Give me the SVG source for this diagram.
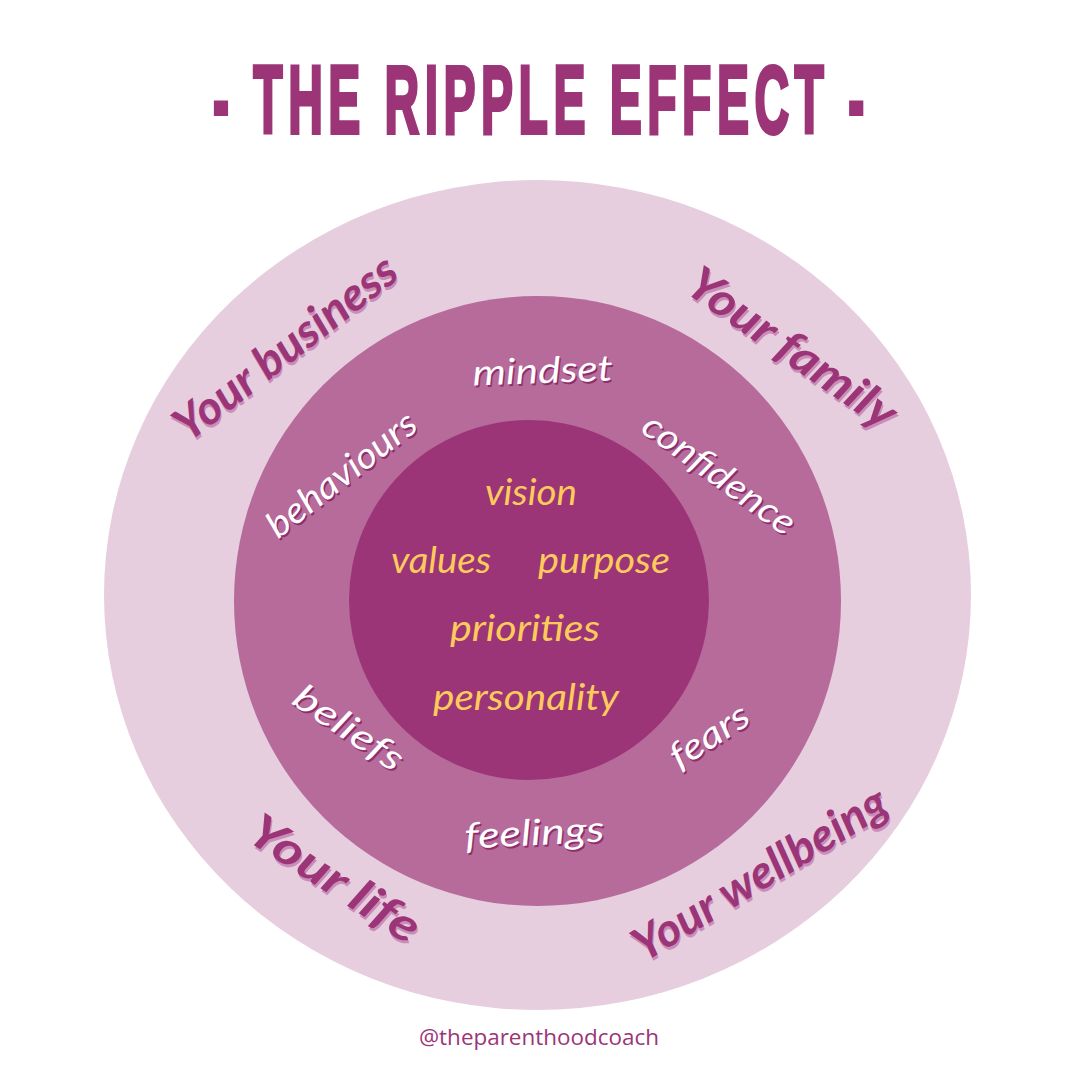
<svg xmlns="http://www.w3.org/2000/svg" width="1080" height="1080" viewBox="0 0 1080 1080">
<style>
.title{font-family:"Liberation Sans",Arial,sans-serif;font-weight:700;font-size:96px;letter-spacing:11px;fill:#9C3577;stroke:#9C3577;stroke-width:4;stroke-linejoin:miter}
.outer{font-family:Lato,"Noto Sans",sans-serif;font-style:italic;font-weight:700;font-size:46px;text-anchor:middle}
.outer.main{fill:#9B3577}
.outer.shadow{fill:#C98DB8}
.ring{font-family:Lato,"Noto Sans",sans-serif;font-style:italic;font-weight:400;font-size:36px;text-anchor:middle}
.ring.main{fill:#FFFFFF}
.ring.shadow{fill:#8F2E6E}
.core{font-family:Lato,"Noto Sans",sans-serif;font-style:italic;font-weight:400;font-size:36px;text-anchor:middle;fill:#FDCB5C}
.handle{font-family:"Open Sans","Noto Sans",sans-serif;font-size:22.5px;fill:#9B3577;text-anchor:middle}
</style>
<rect width="1080" height="1080" fill="#FFFFFF"/>
<g id="title">
<text class="title" transform="translate(213,133) scale(0.5,1)" x="0" y="0">- THE RIPPLE EFFECT -</text>
</g>
<g id="rings">
<ellipse id="ring-outer" cx="537.5" cy="595" rx="433.5" ry="415" fill="#E6CEDF"/>
<ellipse id="ring-middle" cx="537.5" cy="601" rx="303.5" ry="305" fill="#B66B9B"/>
<circle id="ring-inner" cx="529" cy="600" r="180" fill="#9B3577"/>
</g>
<g id="connectors"></g>
<g id="label-your-business">
<text class="outer shadow" transform="translate(296,363) rotate(-38)" textLength="270" lengthAdjust="spacingAndGlyphs">Your business</text>
<text class="outer main" transform="translate(295,360) rotate(-38)" textLength="270" lengthAdjust="spacingAndGlyphs">Your business</text>
</g>
<g id="label-your-family">
<text class="outer shadow" transform="translate(784,364) rotate(35)" textLength="245" lengthAdjust="spacingAndGlyphs">Your family</text>
<text class="outer main" transform="translate(783,361) rotate(35)" textLength="245" lengthAdjust="spacingAndGlyphs">Your family</text>
</g>
<g id="label-your-life">
<text class="outer shadow" transform="translate(327,895) rotate(33)" textLength="195" lengthAdjust="spacingAndGlyphs">Your life</text>
<text class="outer main" transform="translate(326,892) rotate(33)" textLength="195" lengthAdjust="spacingAndGlyphs">Your life</text>
</g>
<g id="label-your-wellbeing">
<text class="outer shadow" transform="translate(769,890) rotate(-31.5)" textLength="290" lengthAdjust="spacingAndGlyphs">Your wellbeing</text>
<text class="outer main" transform="translate(768,887) rotate(-31.5)" textLength="290" lengthAdjust="spacingAndGlyphs">Your wellbeing</text>
</g>
<g id="label-mindset">
<text class="ring shadow" transform="translate(544.5,385) rotate(-2)" textLength="140" lengthAdjust="spacingAndGlyphs">mindset</text>
<text class="ring main" transform="translate(543,383) rotate(-2)" textLength="140" lengthAdjust="spacingAndGlyphs">mindset</text>
</g>
<g id="label-behaviours">
<text class="ring shadow" transform="translate(350.5,486) rotate(-38)" textLength="180" lengthAdjust="spacingAndGlyphs">behaviours</text>
<text class="ring main" transform="translate(349,484) rotate(-38)" textLength="180" lengthAdjust="spacingAndGlyphs">behaviours</text>
</g>
<g id="label-confidence">
<text class="ring shadow" transform="translate(713.5,486) rotate(36)" textLength="180" lengthAdjust="spacingAndGlyphs">confidence</text>
<text class="ring main" transform="translate(712,484) rotate(36)" textLength="180" lengthAdjust="spacingAndGlyphs">confidence</text>
</g>
<g id="label-beliefs">
<text class="ring shadow" transform="translate(343.5,740) rotate(34)" textLength="125" lengthAdjust="spacingAndGlyphs">beliefs</text>
<text class="ring main" transform="translate(342,738) rotate(34)" textLength="125" lengthAdjust="spacingAndGlyphs">beliefs</text>
</g>
<g id="label-fears">
<text class="ring shadow" transform="translate(717.5,748) rotate(-33)" textLength="88" lengthAdjust="spacingAndGlyphs">fears</text>
<text class="ring main" transform="translate(716,746) rotate(-33)" textLength="88" lengthAdjust="spacingAndGlyphs">fears</text>
</g>
<g id="label-feelings">
<text class="ring shadow" transform="translate(536.5,847) rotate(-3)" textLength="140" lengthAdjust="spacingAndGlyphs">feelings</text>
<text class="ring main" transform="translate(535,845) rotate(-3)" textLength="140" lengthAdjust="spacingAndGlyphs">feelings</text>
</g>
<g id="label-vision"><text class="core" x="531" y="505" textLength="92" lengthAdjust="spacingAndGlyphs">vision</text></g>
<g id="label-values"><text class="core" x="441" y="573" textLength="100" lengthAdjust="spacingAndGlyphs">values</text></g>
<g id="label-purpose"><text class="core" x="604" y="573" textLength="132" lengthAdjust="spacingAndGlyphs">purpose</text></g>
<g id="label-priorities"><text class="core" x="525" y="641" textLength="150" lengthAdjust="spacingAndGlyphs">priorities</text></g>
<g id="label-personality"><text class="core" x="526" y="710" textLength="186" lengthAdjust="spacingAndGlyphs">personality</text></g>
<g id="handle">
<text class="handle" x="539" y="1045" textLength="240" lengthAdjust="spacingAndGlyphs">@theparenthoodcoach</text>
</g>
</svg>
